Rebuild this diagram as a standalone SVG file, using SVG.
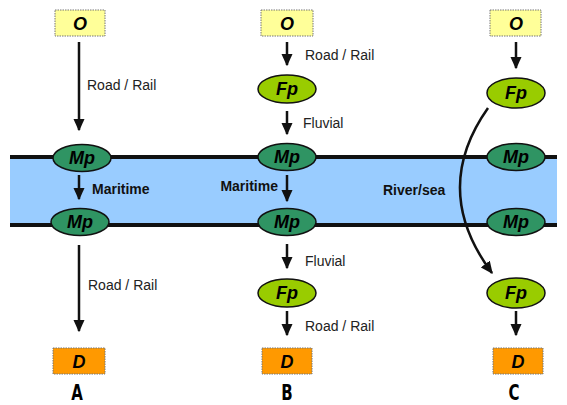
<svg xmlns="http://www.w3.org/2000/svg" width="567" height="405" viewBox="0 0 567 405">
<style>
.lbl{font-family:"Liberation Sans",Arial,sans-serif;font-size:14px;fill:#222}
.bl{font-family:"Liberation Sans",Arial,sans-serif;font-size:14px;font-weight:bold;fill:#111}
.nt{font-family:"Liberation Sans",Arial,sans-serif;font-size:18px;font-weight:bold;font-style:italic;fill:#000;text-anchor:middle}
.o{fill:#ffff99;stroke:#777;stroke-width:1;stroke-dasharray:1.5 1}
.d{fill:#ff9900;stroke:#777;stroke-width:1;stroke-dasharray:1.5 1}
.fp{fill:#99cc00;stroke:#111;stroke-width:1.5}
.mp{fill:#2f9463;stroke:#111;stroke-width:1.5}
.ar{stroke:#111;stroke-width:2.5;fill:none;marker-end:url(#ah)}
.col{font-family:"DejaVu Sans",sans-serif;font-size:20px;font-weight:bold;fill:#000;text-anchor:middle}
</style>
<defs>
<marker id="ah" viewBox="0 0 10 10" refX="9" refY="5" markerWidth="5" markerHeight="4.5" markerUnits="strokeWidth" orient="auto" preserveAspectRatio="none">
<path d="M0,0 L10,5 L0,10 Z" fill="#111"/>
</marker>
</defs>
<rect width="567" height="405" fill="#fff"/>
<g id="sea">
<rect x="10" y="158" width="547" height="66" fill="#99ccff"/>
<line x1="10" y1="157" x2="557" y2="157" stroke="#111" stroke-width="4"/>
<line x1="10" y1="225" x2="557" y2="225" stroke="#111" stroke-width="4"/>
</g>
<g id="connectors">
<line class="ar" x1="79" y1="42" x2="79" y2="130"/>
<line class="ar" x1="79" y1="175" x2="79" y2="199"/>
<line class="ar" x1="79" y1="245" x2="79" y2="331"/>
<line class="ar" x1="287" y1="42" x2="287" y2="65"/>
<line class="ar" x1="287" y1="111" x2="287" y2="134"/>
<line class="ar" x1="287" y1="175" x2="287" y2="201"/>
<line class="ar" x1="287" y1="244" x2="287" y2="268"/>
<line class="ar" x1="287" y1="311" x2="287" y2="335"/>
<line class="ar" x1="516" y1="42" x2="516" y2="68"/>
<path class="ar" d="M488,108 Q430,190 492,273"/>
<line class="ar" x1="516" y1="311" x2="516" y2="335"/>
<text class="lbl" x="87" y="90">Road / Rail</text>
<text class="bl" x="92" y="194">Maritime</text>
<text class="lbl" x="88" y="290">Road / Rail</text>
<text class="lbl" x="305" y="60">Road / Rail</text>
<text class="lbl" x="303" y="128">Fluvial</text>
<text class="bl" x="278" y="191" text-anchor="end">Maritime</text>
<text class="lbl" x="305" y="266">Fluvial</text>
<text class="lbl" x="305" y="331">Road / Rail</text>
<text class="bl" x="383" y="195">River/sea</text>
</g>
<g id="A-O"><rect class="o" x="55" y="10" width="50" height="26"/><text class="nt" x="80" y="30">O</text></g>
<g id="A-Mp1"><ellipse class="mp" cx="82" cy="158" rx="29" ry="13.5"/><text class="nt" x="82" y="164">Mp</text></g>
<g id="A-Mp2"><ellipse class="mp" cx="80" cy="222" rx="29" ry="13.5"/><text class="nt" x="80" y="228">Mp</text></g>
<g id="A-D"><rect class="d" x="53" y="348" width="52" height="26"/><text class="nt" x="79" y="368">D</text></g>
<text class="col" x="77" y="400" transform="translate(77 0) scale(0.75 1.1) translate(-77 -36.36)">A</text>
<g id="B-O"><rect class="o" x="261" y="10" width="52" height="26"/><text class="nt" x="287" y="30">O</text></g>
<g id="B-Fp1"><ellipse class="fp" cx="287" cy="89" rx="29" ry="14"/><text class="nt" x="287" y="95">Fp</text></g>
<g id="B-Mp1"><ellipse class="mp" cx="287" cy="157" rx="29" ry="13.5"/><text class="nt" x="287" y="163">Mp</text></g>
<g id="B-Mp2"><ellipse class="mp" cx="287" cy="222" rx="29" ry="13.5"/><text class="nt" x="287" y="228">Mp</text></g>
<g id="B-Fp2"><ellipse class="fp" cx="287" cy="293" rx="29" ry="14"/><text class="nt" x="287" y="299">Fp</text></g>
<g id="B-D"><rect class="d" x="262" y="348" width="50" height="26"/><text class="nt" x="287" y="368">D</text></g>
<text class="col" x="287" y="400" transform="translate(287 0) scale(0.75 1.1) translate(-287 -36.36)">B</text>
<g id="C-O"><rect class="o" x="490" y="10" width="51" height="26"/><text class="nt" x="516" y="30">O</text></g>
<g id="C-Fp1"><ellipse class="fp" cx="516" cy="93" rx="29" ry="15"/><text class="nt" x="516" y="99">Fp</text></g>
<g id="C-Mp1"><ellipse class="mp" cx="516" cy="157" rx="29" ry="13.5"/><text class="nt" x="516" y="163">Mp</text></g>
<g id="C-Mp2"><ellipse class="mp" cx="516" cy="222" rx="29" ry="13.5"/><text class="nt" x="516" y="228">Mp</text></g>
<g id="C-Fp2"><ellipse class="fp" cx="516" cy="293" rx="29" ry="15"/><text class="nt" x="516" y="299">Fp</text></g>
<g id="C-D"><rect class="d" x="493" y="348" width="50" height="26"/><text class="nt" x="518" y="368">D</text></g>
<text class="col" x="514" y="400" transform="translate(514 0) scale(0.75 1.1) translate(-514 -36.36)">C</text>
</svg>
